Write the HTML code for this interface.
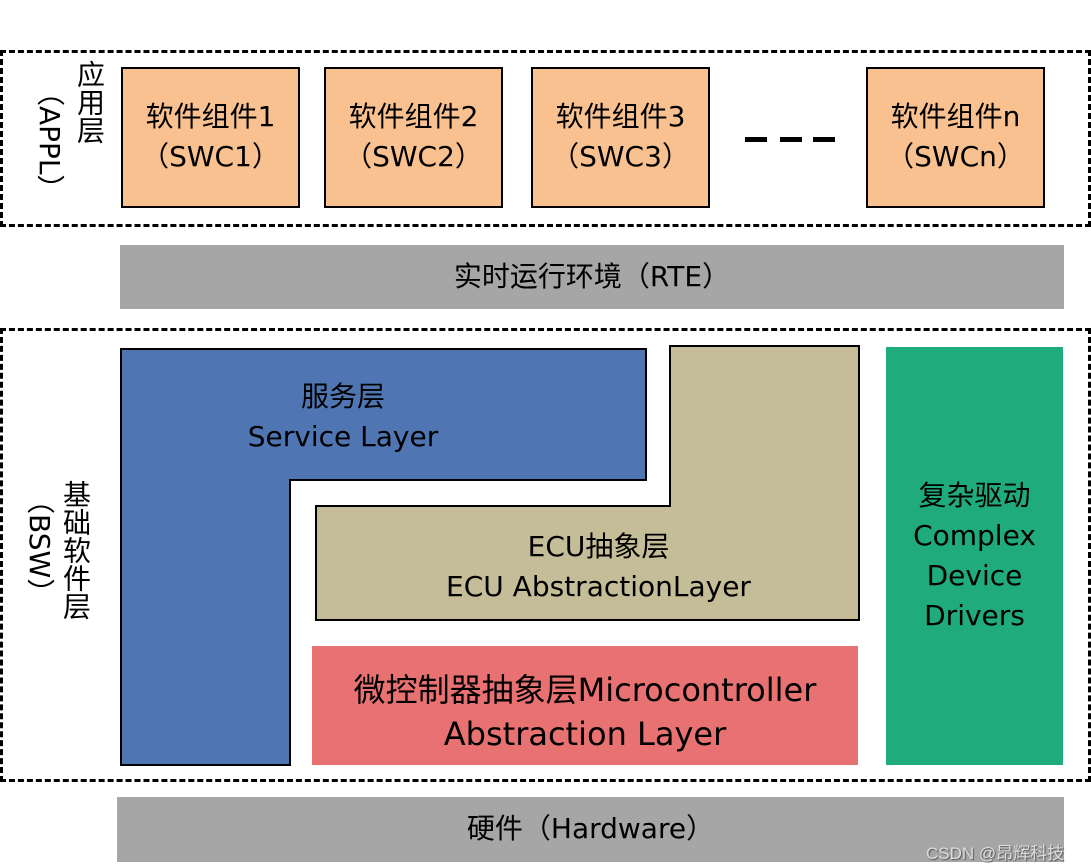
<!DOCTYPE html>
<html><head><meta charset="utf-8"><style>
body{margin:0;width:1091px;height:868px;background:#fff;position:relative;overflow:hidden;font-family:"DejaVu Sans","Noto Sans CJK SC",sans-serif;color:#000}
div{position:absolute;box-sizing:border-box}
.dash{border:3px dashed #000}
.swc{background:#f8c18f;border:2px solid #000;top:67px;height:141px;width:179px;font-size:28px;line-height:40px;text-align:center;padding-top:28px}
.gray{background:#a6a6a6;font-size:28px;text-align:center}
.c{text-align:center;font-size:28px;line-height:40px}
.v{writing-mode:vertical-rl;font-size:28px;line-height:34px}
</style></head><body>
<div class="dash" style="left:0;top:50px;width:1091px;height:177px"></div>
<div class="v" style="left:72px;top:60px">应用层</div>
<div class="v" style="left:32px;top:78px">（APPL）</div>
<div class="swc" style="left:121px">软件组件1<br>（SWC1）</div>
<div class="swc" style="left:324px">软件组件2<br>（SWC2）</div>
<div class="swc" style="left:531px">软件组件3<br>（SWC3）</div>
<div class="swc" style="left:866px">软件组件n<br>（SWCn）</div>
<div style="left:745px;top:137px;width:22px;height:5px;background:#000"></div>
<div style="left:780px;top:137px;width:22px;height:5px;background:#000"></div>
<div style="left:813px;top:137px;width:22px;height:5px;background:#000"></div>
<div class="gray" style="left:120px;top:245px;width:944px;height:64px;line-height:64px">实时运行环境（RTE）</div>
<div class="dash" style="left:0;top:328px;width:1091px;height:454px"></div>
<div class="v" style="left:58px;top:480px">基础软件层</div>
<div class="v" style="left:22px;top:486px">（BSW）</div>
<svg style="position:absolute;left:0;top:0" width="1091" height="868">
<polygon points="121,349 646,349 646,480 290,480 290,765 121,765" fill="#4f76b2" stroke="#000" stroke-width="2"/>
<polygon points="670,346 859,346 859,620 316,620 316,506 670,506" fill="#c4bd97" stroke="#000" stroke-width="2"/>
</svg>
<div class="c" style="left:121px;top:377px;width:444px">服务层<br>Service Layer</div>
<div class="c" style="left:316px;top:527px;width:565px">ECU抽象层<br>ECU AbstractionLayer</div>
<div class="c" style="left:312px;top:646px;width:546px;height:119px;background:#e87171;font-size:32px;line-height:44px;padding-top:22px">微控制器抽象层Microcontroller<br>Abstraction Layer</div>
<div class="c" style="left:886px;top:347px;width:177px;height:418px;background:#1fab7b;padding-top:129px">复杂驱动<br>Complex<br>Device<br>Drivers</div>
<div class="gray" style="left:117px;top:797px;width:947px;height:65px;line-height:64px">硬件（Hardware）</div>
<div style="left:926px;top:839px;font-size:17px;color:#ddd;text-shadow:1px 1px 1px #555;font-family:'Liberation Sans','Noto Sans CJK SC',sans-serif">CSDN @昂辉科技</div>
</body></html>
